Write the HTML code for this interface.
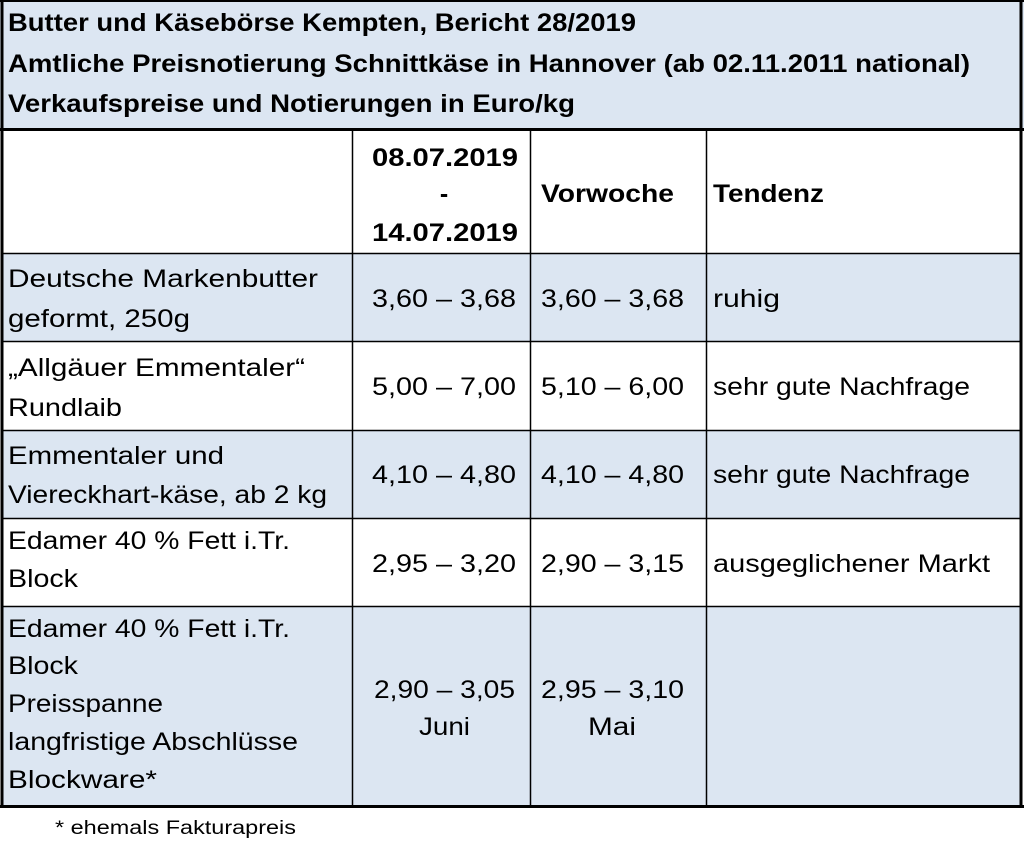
<!DOCTYPE html>
<html><head><meta charset="utf-8"><style>
html,body{margin:0;padding:0;background:#fff;width:1024px;height:865px;overflow:hidden}
svg text{font-family:"Liberation Sans",sans-serif;fill:#000}
.b{font-weight:bold}
</style></head><body>
<svg width="1024" height="865" viewBox="0 0 1024 865">
<g>
<rect x="0" y="0" width="1024" height="129" fill="#dce6f2"/>
<rect x="2" y="253" width="1020" height="88" fill="#dce6f2"/>
<rect x="2" y="430" width="1020" height="88" fill="#dce6f2"/>
<rect x="2" y="606" width="1020" height="200" fill="#dce6f2"/>
</g>
<g stroke="#000">
<line x1="0" y1="1" x2="1024" y2="1" stroke-width="2"/>
<line x1="2" y1="0" x2="2" y2="808" stroke-width="3"/>
<line x1="1021" y1="0" x2="1021" y2="808" stroke-width="3"/>
<line x1="0" y1="129.5" x2="1024" y2="129.5" stroke-width="3"/>
<line x1="0" y1="806.5" x2="1024" y2="806.5" stroke-width="3"/>
<line x1="352.5" y1="130" x2="352.5" y2="806" stroke-width="1.5"/>
<line x1="530.5" y1="130" x2="530.5" y2="806" stroke-width="1.5"/>
<line x1="706.5" y1="130" x2="706.5" y2="806" stroke-width="1.5"/>
<line x1="2" y1="253.5" x2="1022" y2="253.5" stroke-width="1.5"/>
<line x1="2" y1="341.5" x2="1022" y2="341.5" stroke-width="1.5"/>
<line x1="2" y1="430.5" x2="1022" y2="430.5" stroke-width="1.5"/>
<line x1="2" y1="518.5" x2="1022" y2="518.5" stroke-width="1.5"/>
<line x1="2" y1="606.5" x2="1022" y2="606.5" stroke-width="1.5"/>
</g>
<g font-size="25" class="b">
<text class="b" x="8" y="31" textLength="628" lengthAdjust="spacingAndGlyphs">Butter und Käsebörse Kempten, Bericht 28/2019</text>
<text class="b" x="8" y="72" textLength="962" lengthAdjust="spacingAndGlyphs">Amtliche Preisnotierung Schnittkäse in Hannover (ab 02.11.2011 national)</text>
<text class="b" x="8" y="112" textLength="567" lengthAdjust="spacingAndGlyphs">Verkaufspreise und Notierungen in Euro/kg</text>
</g>
<g font-size="25">
<text class="b" x="372" y="166" textLength="146" lengthAdjust="spacingAndGlyphs">08.07.2019</text>
<text class="b" x="444" y="202" text-anchor="middle">-</text>
<text class="b" x="372" y="241" textLength="146" lengthAdjust="spacingAndGlyphs">14.07.2019</text>
<text class="b" x="541" y="202" textLength="133" lengthAdjust="spacingAndGlyphs">Vorwoche</text>
<text class="b" x="713" y="202" textLength="111" lengthAdjust="spacingAndGlyphs">Tendenz</text>
</g>
<g font-size="25">
<text x="8" y="287" textLength="310" lengthAdjust="spacingAndGlyphs">Deutsche Markenbutter</text>
<text x="8" y="327" textLength="182" lengthAdjust="spacingAndGlyphs">geformt, 250g</text>
<text x="372" y="307" textLength="144" lengthAdjust="spacingAndGlyphs">3,60 – 3,68</text>
<text x="541" y="307" textLength="143" lengthAdjust="spacingAndGlyphs">3,60 – 3,68</text>
<text x="713" y="307" textLength="67" lengthAdjust="spacingAndGlyphs">ruhig</text>
</g>
<g font-size="25">
<text x="8" y="376" textLength="297" lengthAdjust="spacingAndGlyphs">„Allgäuer Emmentaler“</text>
<text x="8" y="416" textLength="114" lengthAdjust="spacingAndGlyphs">Rundlaib</text>
<text x="372" y="395" textLength="144" lengthAdjust="spacingAndGlyphs">5,00 – 7,00</text>
<text x="541" y="395" textLength="143" lengthAdjust="spacingAndGlyphs">5,10 – 6,00</text>
<text x="713" y="395" textLength="257" lengthAdjust="spacingAndGlyphs">sehr gute Nachfrage</text>
</g>
<g font-size="25">
<text x="8" y="464" textLength="216" lengthAdjust="spacingAndGlyphs">Emmentaler und</text>
<text x="8" y="503" textLength="319" lengthAdjust="spacingAndGlyphs">Viereckhart-käse, ab 2 kg</text>
<text x="372" y="483" textLength="144" lengthAdjust="spacingAndGlyphs">4,10 – 4,80</text>
<text x="541" y="483" textLength="143" lengthAdjust="spacingAndGlyphs">4,10 – 4,80</text>
<text x="713" y="483" textLength="257" lengthAdjust="spacingAndGlyphs">sehr gute Nachfrage</text>
</g>
<g font-size="25">
<text x="8" y="549" textLength="282" lengthAdjust="spacingAndGlyphs">Edamer 40 % Fett i.Tr.</text>
<text x="8" y="587" textLength="70" lengthAdjust="spacingAndGlyphs">Block</text>
<text x="372" y="572" textLength="144" lengthAdjust="spacingAndGlyphs">2,95 – 3,20</text>
<text x="541" y="572" textLength="143" lengthAdjust="spacingAndGlyphs">2,90 – 3,15</text>
<text x="713" y="572" textLength="277" lengthAdjust="spacingAndGlyphs">ausgeglichener Markt</text>
</g>
<g font-size="25">
<text x="8" y="637" textLength="282" lengthAdjust="spacingAndGlyphs">Edamer 40 % Fett i.Tr.</text>
<text x="8" y="674" textLength="70" lengthAdjust="spacingAndGlyphs">Block</text>
<text x="8" y="712" textLength="155" lengthAdjust="spacingAndGlyphs">Preisspanne</text>
<text x="8" y="750" textLength="290" lengthAdjust="spacingAndGlyphs">langfristige Abschlüsse</text>
<text x="8" y="788" textLength="149" lengthAdjust="spacingAndGlyphs">Blockware*</text>
<text x="374" y="698" textLength="141" lengthAdjust="spacingAndGlyphs">2,90 – 3,05</text>
<text x="419" y="735" font-size="25" textLength="51" lengthAdjust="spacingAndGlyphs">Juni</text>
<text x="541" y="698" textLength="143" lengthAdjust="spacingAndGlyphs">2,95 – 3,10</text>
<text x="588" y="735" font-size="25" textLength="48" lengthAdjust="spacingAndGlyphs">Mai</text>
</g>
<text x="55" y="834" font-size="19" textLength="241" lengthAdjust="spacingAndGlyphs">* ehemals Fakturapreis</text>
</svg>
</body></html>
